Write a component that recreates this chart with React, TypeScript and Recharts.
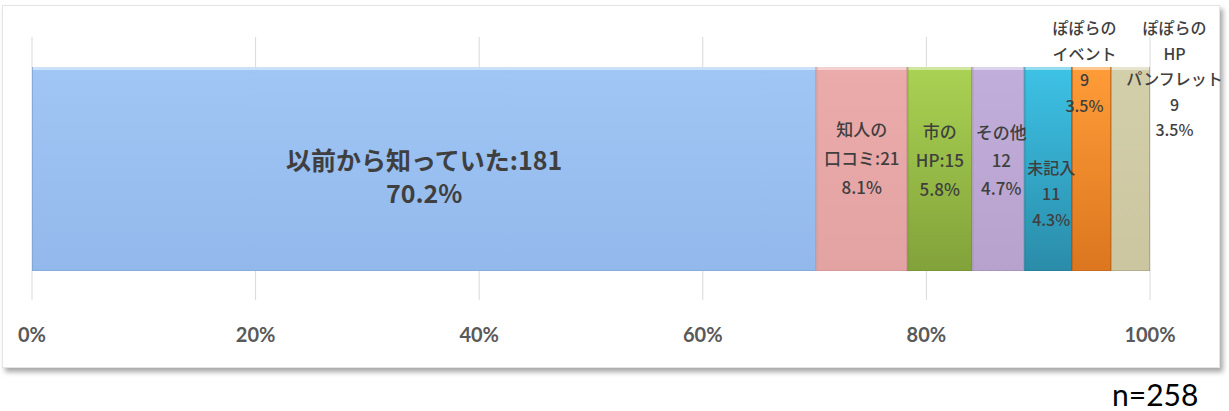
import React from 'react';
import { BarChart, Bar, XAxis, YAxis, CartesianGrid } from 'recharts';

const category = '認知経路';
const seriesKeys = ['s0', 's1', 's2', 's3', 's4', 's5', 's6'];
const seriesNames = ['以前から知っていた', '知人の口コミ', '市のHP', 'その他', '未記入', 'ぽぽらのイベント', 'ぽぽらのHPパンフレット'];
const counts = [181, 21, 15, 12, 11, 9, 9];
const percentLabels = ['70.2%', '8.1%', '5.8%', '4.7%', '4.3%', '3.5%', '3.5%'];
const labelTexts = [
  ['以前から知っていた:181'],
  ['知人の', '口コミ:21'],
  ['市の', 'HP:15'],
  ['その他', '12'],
  ['未記入', '11'],
  ['ぽぽらの', 'イベント', '9'],
  ['ぽぽらの', 'HP', 'パンフレット', '9'],
];
const xTicks = [0, 0.2, 0.4, 0.6, 0.8, 1];
const totalN = 258;

// styles (kept separate from data)
const gradients = [
  ['#A0C6F5', '#93B9EC'],
  ['#ECABAB', '#E4A3A3'],
  ['#AAD253', '#82A23A'],
  ['#C2AEDA', '#B7A2CE'],
  ['#3DC2E6', '#2A8CA9'],
  ['#FF9C38', '#DC761F'],
  ['#D3CFAA', '#CBC6A0'],
];
const edgeColors = ['#7E9FCB', '#C48C8C', '#6E8A31', '#9D8AB2', '#23768F', '#B8621A', '#9E9A76'];
const labelLayout = [
  { dx: 0, top: 92, lh: 33, fs: 25 },
  { dx: 0, top: 61, lh: 29, fs: 17 },
  { dx: 0, top: 63, lh: 29, fs: 17 },
  { dx: 3, top: 64, lh: 28, fs: 17 },
  { dx: 3, top: 100, lh: 26, fs: 16 },
  { dx: -7, top: -40, lh: 26, fs: 16 },
  { dx: 44, top: -40, lh: 25.5, fs: 16 },
];

const row: Record<string, string | number> = { name: category };
seriesKeys.forEach((k, i) => {
  row[k] = counts[i];
});
const tableData = [row];

const SegShape = (props: any) => {
  const { x, y, width, height, idx } = props;
  if (width <= 0 || height <= 0) return null;
  return (
    <g>
      <rect x={x} y={y} width={width} height={height} fill={`url(#grad${idx})`} />
      <rect x={x} y={y} width={width} height={3} fill="#ffffff" opacity={0.45} />
      <line x1={x + 0.5} y1={y} x2={x + 0.5} y2={y + height} stroke={edgeColors[idx]} strokeWidth={1} opacity={0.7} />
      <line x1={x + width - 0.5} y1={y} x2={x + width - 0.5} y2={y + height} stroke={edgeColors[idx]} strokeWidth={1} opacity={0.7} />
      <line x1={x} y1={y + height - 0.5} x2={x + width} y2={y + height - 0.5} stroke={edgeColors[idx]} strokeWidth={1} opacity={0.5} />
    </g>
  );
};

const SegLabel = (props: any) => {
  const { x, y, width, idx } = props;
  const lay = labelLayout[idx];
  const cx = x + width / 2 + lay.dx;
  const lines = [...labelTexts[idx], percentLabels[idx]];
  return (
    <g>
      {lines.map((t, j) => (
        <text
          key={j}
          x={cx}
          y={y + lay.top + j * lay.lh}
          textAnchor="middle"
          dominantBaseline="central"
          fontFamily="'Noto Sans CJK JP', sans-serif"
          fontSize={lay.fs}
          fontWeight={idx === 0 ? 700 : 500}
          fill="#3f3f3f"
        >
          {t}
        </text>
      ))}
    </g>
  );
};

const XTick = (props: any) => {
  const { x, payload } = props;
  return (
    <text
      x={x}
      y={334}
      textAnchor="middle"
      dominantBaseline="central"
      fontFamily="Lato, 'Open Sans', sans-serif"
      fontWeight={700}
      fontSize={20}
      fill="#595959"
    >
      {`${Math.round(payload.value * 100)}%`}
    </text>
  );
};

export default function App() {
  return (
    <div style={{ position: 'absolute', left: 0, top: 0, width: 1229, height: 411, background: '#ffffff' }}>
      <div
        style={{
          position: 'absolute',
          left: 2,
          top: 5,
          width: 1216,
          height: 361,
          border: '1px solid #e4e4e4',
          boxShadow: '3px 4px 5px rgba(0,0,0,0.35)',
          background: '#ffffff',
        }}
      />
      <div style={{ position: 'absolute', left: 0, top: 0 }}>
        <BarChart
          width={1229}
          height={411}
          data={tableData}
          layout="vertical"
          stackOffset="expand"
          margin={{ top: 37, right: 79, bottom: 71, left: 32 }}
        >
          <defs>
            {gradients.map((g, i) => (
              <linearGradient key={i} id={`grad${i}`} x1="0" y1="0" x2="0" y2="1">
                <stop offset="0%" stopColor={g[0]} />
                <stop offset="100%" stopColor={g[1]} />
              </linearGradient>
            ))}
          </defs>
          <CartesianGrid vertical horizontal={false} stroke="#d9d9d9" />
          <XAxis
            type="number"
            domain={[0, 1]}
            ticks={xTicks}
            tick={<XTick />}
            tickLine={false}
            axisLine={false}
            height={40}
            interval={0}
          />
          <YAxis type="category" dataKey="name" hide width={0} />
          {seriesKeys.map((k, i) => (
            <Bar
              key={k}
              dataKey={k}
              name={seriesNames[i]}
              stackId="a"
              barSize={204}
              isAnimationActive={false}
              shape={(p: any) => <SegShape {...p} idx={i} />}
              label={(p: any) => <SegLabel {...p} idx={i} />}
            />
          ))}
        </BarChart>
      </div>
      <div
        style={{
          position: 'absolute',
          left: 1112,
          top: 378,
          fontFamily: "Lato, 'Open Sans', sans-serif",
          fontSize: 30,
          lineHeight: '32px',
          color: '#000000',
        }}
      >
        {`n=${totalN}`}
      </div>
    </div>
  );
}
